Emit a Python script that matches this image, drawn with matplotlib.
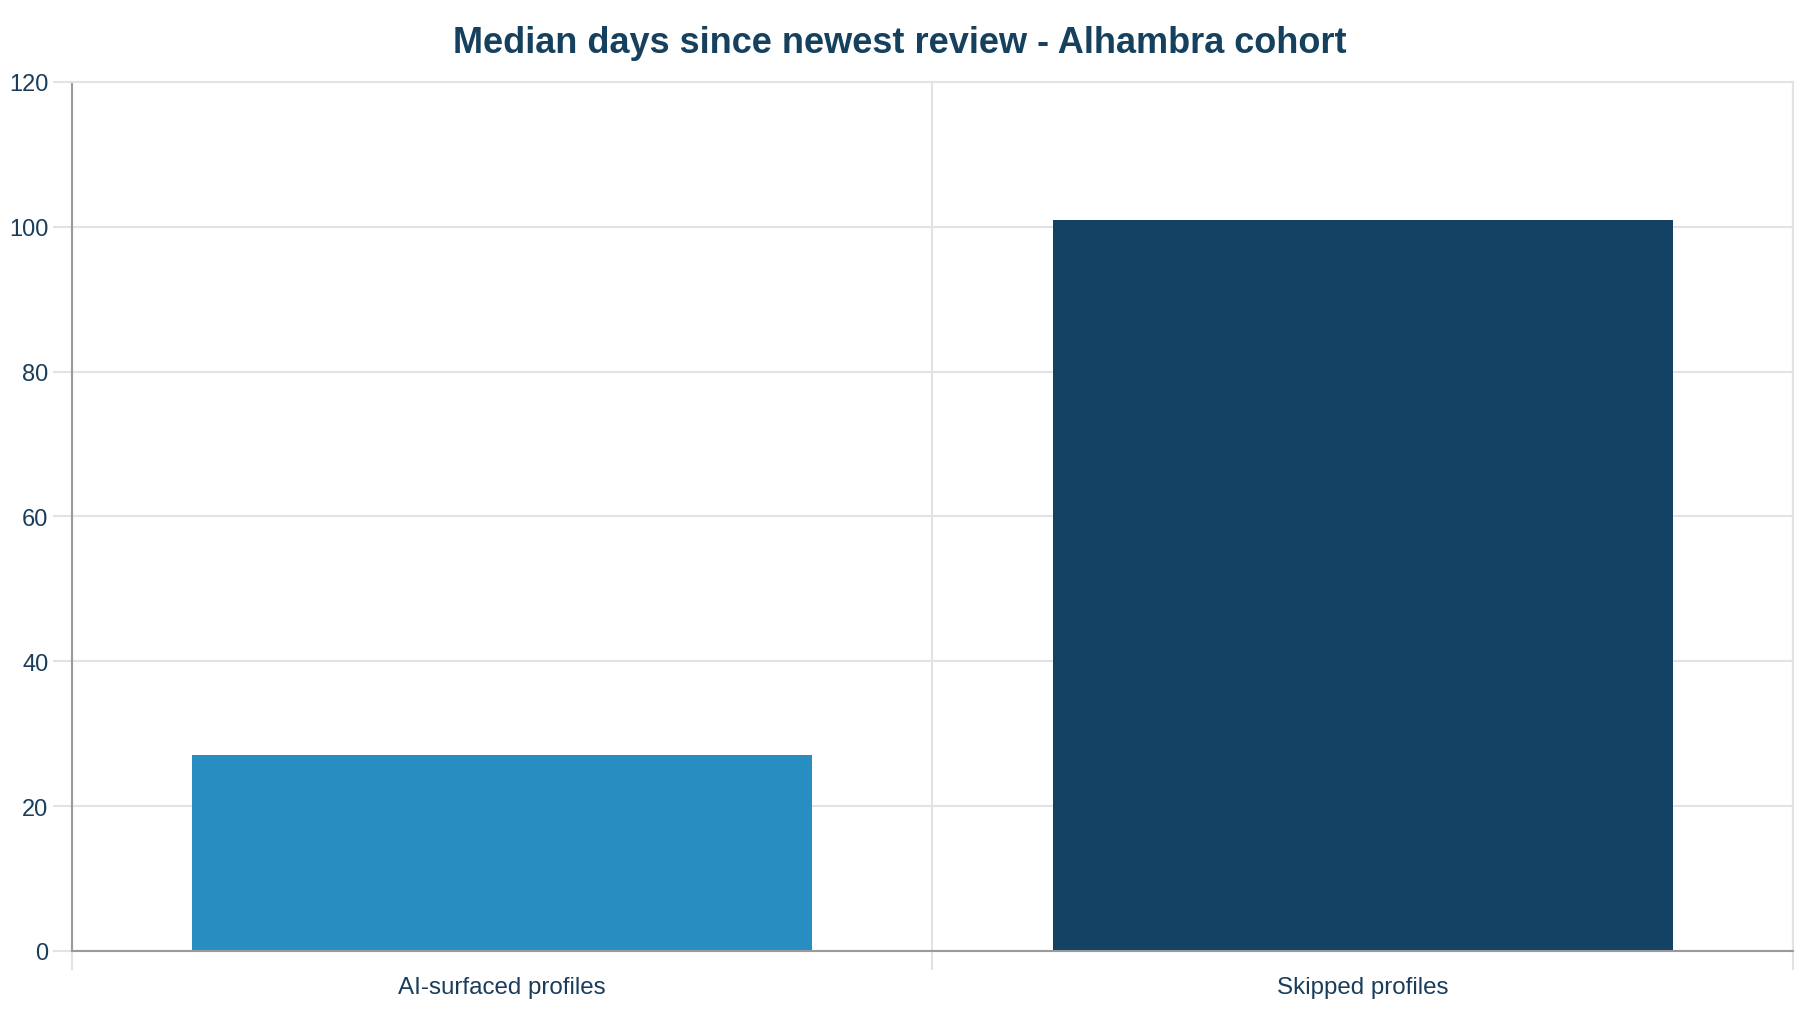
import numpy as np
import matplotlib
matplotlib.use('Agg')
import matplotlib.pyplot as plt

# --------------------------------------------------------------------------+
categories = ['AI-surfaced profiles', 'Skipped profiles']
median_days = [27, 101]
bar_colors = ['#288dc1', '#134264']
title = 'Median days since newest review - Alhambra cohort'
yticks = [0, 20, 40, 60, 80, 100, 120]

text_color = '#1a3d5c'
grid_color = '#e3e3e3'
axis_color = '#9a9a9a'
# --------------------------------------------------------------------------+

plt.rcParams['font.family'] = ['Liberation Sans', 'DejaVu Sans']

fig = plt.figure(figsize=(18, 10.12), dpi=100)
ax = fig.add_axes([0.0400, 0.0593, 0.9561, 0.8587])

x = np.arange(len(categories))
ax.bar(x, median_days, width=0.72, color=bar_colors, zorder=3)

ax.set_xlim(-0.5, len(categories) - 0.5)
ax.set_ylim(0, 120)
ax.set_yticks(yticks)
ax.set_yticklabels([str(v) for v in yticks])
ax.yaxis.grid(True, color=grid_color, linewidth=1.5, zorder=0)

# category labels at centres, boundary lines at edges
ax.set_xticks(x)
ax.set_xticklabels(categories)
ax.set_xticks(np.arange(-0.5, len(categories)), minor=True)
ax.xaxis.grid(True, which='minor', color=grid_color, linewidth=1.5, zorder=0)
ax.tick_params(axis='x', which='major', length=0, pad=18, labelsize=17.4, labelcolor=text_color)
ax.tick_params(axis='x', which='minor', length=14, width=1.5, color=grid_color)
ax.xaxis.get_minor_ticks()[0].tick1line.set_color(axis_color)
ax.tick_params(axis='y', length=14, width=1.5, color=grid_color, pad=3,
               labelsize=17, labelcolor=text_color)

for side in ['top', 'right']:
    ax.spines[side].set_color(grid_color)
    ax.spines[side].set_linewidth(1.5)
for side in ['left', 'bottom']:
    ax.spines[side].set_color(axis_color)
    ax.spines[side].set_linewidth(1.5)
ax.spines['bottom'].set_zorder(4)

fig.text(0.5, 0.957, title, ha='center', va='center', fontsize=26,
         fontweight='bold', color='#15415f')

plt.savefig('out.png', dpi=100)
